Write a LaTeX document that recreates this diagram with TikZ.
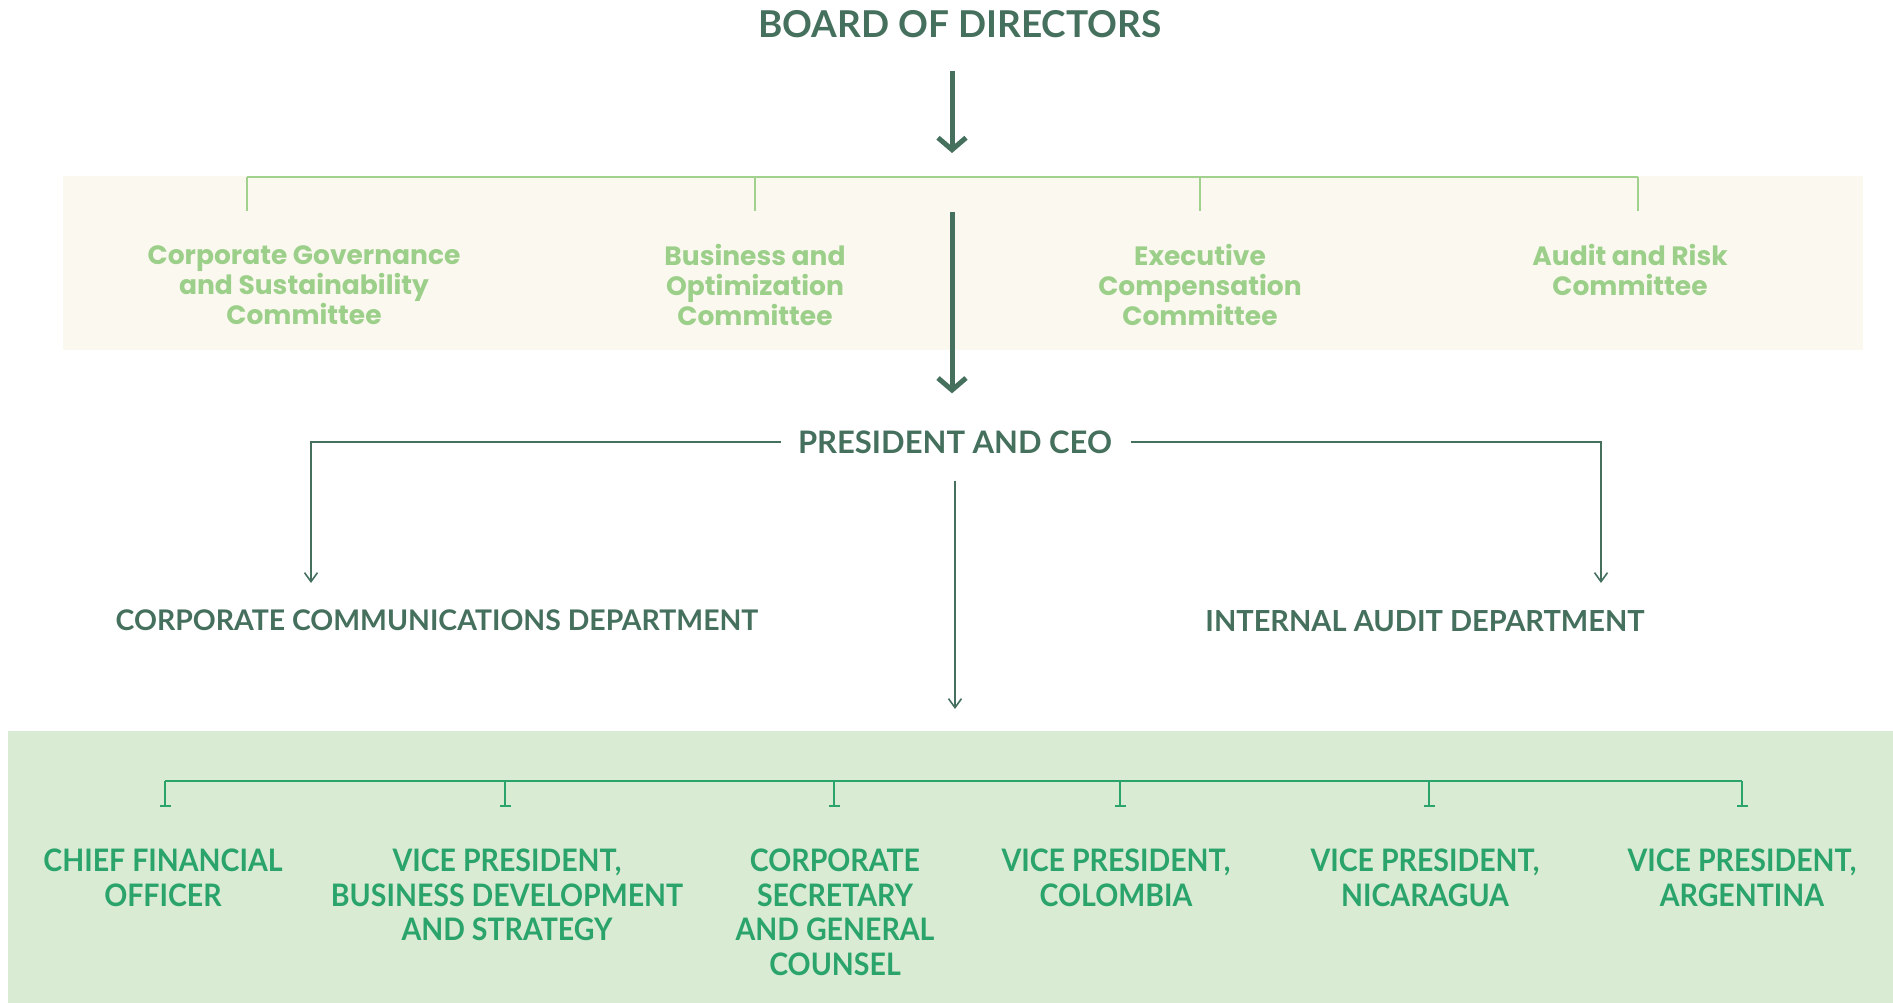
\documentclass[tikz,border=0pt]{standalone}
\usepackage{fontspec}
\setmainfont{Lato}
\newfontfamily\comfont{Poppins}
\newfontfamily\vpfont{Lato}[FakeStretch=0.92]
\usetikzlibrary{arrows.meta,positioning}

\definecolor{darkgreen}{HTML}{46705E}
\definecolor{comgreen}{HTML}{9CCF8A}
\definecolor{comline}{HTML}{A0D28E}
\definecolor{beige}{HTML}{FBF9EF}
\definecolor{vpband}{HTML}{D9EBD3}
\definecolor{vpgreen}{HTML}{2AA46B}

\begin{document}
\begin{tikzpicture}[x=1pt,y=-1pt,
  head/.style={inner sep=0pt,text=darkgreen,font=\bfseries\fontsize{31}{35}\selectfont},
  comtext/.style={inner sep=0pt,anchor=north,align=center,text=comgreen,
    font=\comfont\bfseries\fontsize{26.5}{30}\selectfont},
  vptext/.style={inner sep=0pt,anchor=north,align=center,text=vpgreen,
    font=\vpfont\bfseries\fontsize{31}{34.5}\selectfont},
  band/.style={draw=none,inner sep=0pt,outer sep=0pt,rectangle},
  bigarrow/.style={darkgreen,line width=5pt,-{Straight Barb[length=12pt,width=28pt,line width=5pt]}},
  thinarrow/.style={darkgreen,line width=1.6pt,-{Straight Barb[length=9pt,width=13pt,line width=1.6pt]}},
  comlink/.style={comline,line width=2.2pt},
  vplink/.style={vpgreen,line width=2.4pt},
  vpdrop/.style={vpgreen,line width=1.6pt,-{Bar[width=11pt,line width=2pt]}}]

  \useasboundingbox (0,0) rectangle (1893,1003);
  \fill[white] (0,0) rectangle (1893,1003);

  % bands
  \node [band, fill=beige, minimum width=1800pt, minimum height=174pt] (comband) at (963,263) {};
  \node [band, fill=vpband, minimum width=1885pt, minimum height=272pt] (vpbandbox) at (950.5,867) {};

  % board and committees
  \node [head, font=\bfseries\fontsize{37}{42}\selectfont] (board) at (960,24) {BOARD OF DIRECTORS};
  \coordinate (spine) at (952,0);

  \node [comtext] (c1) at (304,245) {Corporate Governance\\and Sustainability\\Committee};
  \node [comtext] (c2) at (755,244) {Business and\\Optimization\\Committee};
  \node [comtext] (c3) at (1200,244) {Executive\\Compensation\\Committee};
  \node [comtext] (c4) at (1630,244) {Audit and Risk\\Committee};

  \coordinate (combar) at (0,177);
  \draw [comlink] (247,177) -- (1638,177);
  \foreach \x in {247,755,1200,1638}
    \draw [comlink] (\x,177) -- ++(0,34);

  % president
  \node [head] (ceo) at (955,442) {PRESIDENT AND CEO};

  \draw [bigarrow, shorten <=33pt, shorten >=23pt] (board.south -| spine) -- (comband.north -| spine);
  \draw [bigarrow, shorten <=36pt, shorten >=37pt] (comband.north -| spine) -- (ceo.north -| spine);

  \node [head, font=\bfseries\fontsize{28.4}{33}\selectfont] (ccd) at (437,620) {CORPORATE COMMUNICATIONS DEPARTMENT};
  \node [head, font=\bfseries\fontsize{29}{33}\selectfont] (iad) at (1425,621) {INTERNAL AUDIT DEPARTMENT};
  \coordinate (ccdin) at (311,583);
  \coordinate (iadin) at (1601,583);

  \draw [thinarrow] ([xshift=-17pt]ceo.west) -| (ccdin);
  \draw [thinarrow] ([xshift=19pt]ceo.east) -| (iadin);
  \draw [thinarrow, shorten <=27pt, shorten >=22pt] (ceo.south) -- (vpbandbox.north -| ceo.south);

  % vice presidents
  \node [vptext] (cfo) at (163,849) {CHIEF FINANCIAL\\OFFICER};
  \node [vptext] (vpbd) at (507,849) {VICE PRESIDENT,\\BUSINESS DEVELOPMENT\\AND STRATEGY};
  \node [vptext] (sec) at (835,849) {CORPORATE\\SECRETARY\\AND GENERAL\\COUNSEL};
  \node [vptext] (vpcol) at (1116,849) {VICE PRESIDENT,\\COLOMBIA};
  \node [vptext] (vpnic) at (1425,849) {VICE PRESIDENT,\\NICARAGUA};
  \node [vptext] (vparg) at (1742,849) {VICE PRESIDENT,\\ARGENTINA};

  \coordinate (vpbar) at (0,781);
  \draw [vplink] (165,781) -- (1742,781);
  \foreach \x in {165,505,834,1120,1429,1742}
    \draw [vpdrop] (\x,781) -- ++(0,26);
\end{tikzpicture}
\end{document}
